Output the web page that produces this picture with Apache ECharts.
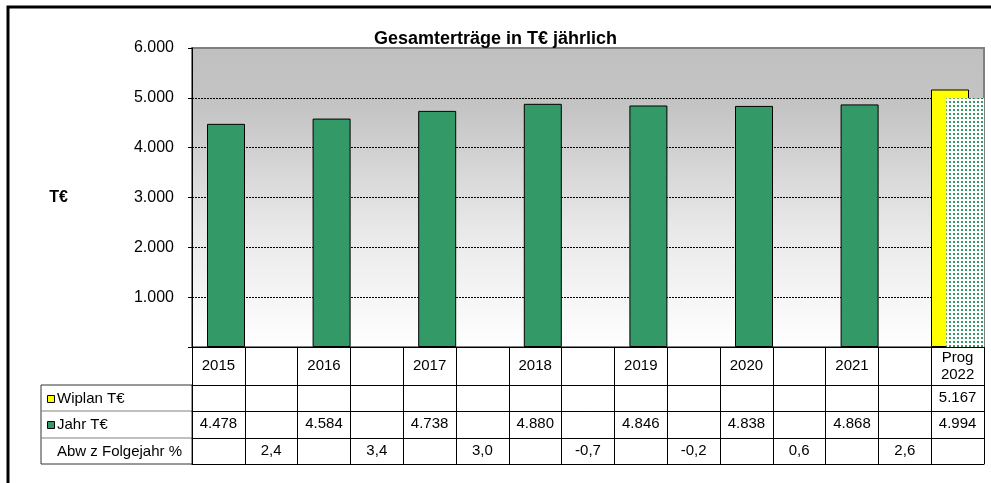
<!DOCTYPE html>
<html>
<head>
<meta charset="utf-8">
<title>Gesamterträge</title>
<script src="https://cdn.jsdelivr.net/npm/echarts@6/dist/echarts.min.js"></script>
<style>
    html,body{ margin:0; padding:0; background:#fff; }
    #chart{ width:991px; height:483px; }
</style>
</head>
<body>
<div id="chart"></div>
<script>
// Spalten: Jahre mit Zwischenspalten für die Abweichung
var categories = ['2015', '', '2016', '', '2017', '', '2018', '', '2019', '', '2020', '', '2021', '', 'Prog\n2022'];
var wiplan = [null, null, null, null, null, null, null, null, null, null, null, null, null, null, 5167];
var jahr = [4478, null, 4584, null, 4738, null, 4880, null, 4846, null, 4838, null, 4868, null, 4994];
var abw = [null, 2.4, null, 3.4, null, 3.0, null, -0.7, null, -0.2, null, 0.6, null, 2.6, null];
var yMin = 0, yMax = 6000, yStep = 1000;

var font = '"Liberation Sans", Arial, sans-serif';

function tsd(v) {
    if (v === null || v === undefined) return '';
    return String(v).replace(/\B(?=(\d{3})+(?!\d))/g, '.');
}
function pct(v) {
    if (v === null || v === undefined) return '';
    return v.toFixed(1).replace('.', ',');
}

// gepunktetes Muster für die Prognose
var pat = document.createElement('canvas');
pat.width = 4; pat.height = 4;
var ctx = pat.getContext('2d');
ctx.fillStyle = '#ffffff';
ctx.fillRect(0, 0, 4, 4);
ctx.fillStyle = '#339966';
ctx.fillRect(1, 1, 2, 2);

var jahrData = jahr.map(function (v, i) {
    if (v === null) return null;
    if (categories[i].indexOf('Prog') === 0) {
        return { value: v, itemStyle: { color: { image: pat, repeat: 'repeat' }, borderWidth: 0 } };
    }
    return v;
});

function rowAxis(data, offset, tickLen) {
    return {
        type: 'category',
        position: 'bottom',
        offset: offset,
        data: data,
        boundaryGap: true,
        axisLine: { show: true, lineStyle: { color: '#000', width: 1 } },
        axisTick: { show: tickLen > 0, interval: 0, length: tickLen, lineStyle: { color: '#000', width: 1 } },
        axisLabel: { show: tickLen > 0, interval: 0, margin: 13, verticalAlign: 'middle', fontSize: 15, color: '#000', fontFamily: font },
        splitLine: { show: false }
    };
}

var chart = echarts.init(document.getElementById('chart'));
chart.setOption({
    animation: false,
    title: {
        text: 'Gesamterträge in T€ jährlich',
        left: 'center',
        top: 25,
        textStyle: { fontSize: 18, fontWeight: 'bold', color: '#000', fontFamily: font }
    },
    grid: {
        left: 192, right: 7, top: 48, bottom: 136,
        show: true,
        borderColor: '#808080',
        borderWidth: 2,
        backgroundColor: {
            type: 'linear', x: 0, y: 0, x2: 0, y2: 1,
            colorStops: [
                { offset: 0, color: '#c0c0c0' },
                { offset: 0.2, color: '#c4c4c4' },
                { offset: 0.6, color: '#e8e8e8' },
                { offset: 1, color: '#ffffff' }
            ]
        }
    },
    xAxis: [
        {
            type: 'category',
            position: 'bottom',
            data: categories,
            boundaryGap: true,
            axisLine: { show: true, lineStyle: { color: '#000', width: 1 } },
            axisTick: { show: true, interval: 0, length: 38, lineStyle: { color: '#000', width: 1 } },
            axisLabel: { interval: 0, margin: 19, verticalAlign: 'middle', lineHeight: 17, fontSize: 15, color: '#000', fontFamily: font },
            splitLine: { show: false }
        },
        rowAxis(wiplan.map(tsd), 38, 26),
        rowAxis(jahr.map(tsd), 64, 27),
        rowAxis(abw.map(pct), 91, 26),
        rowAxis(categories.map(function () { return ''; }), 117, 0)
    ],
    yAxis: {
        type: 'value',
        min: yMin, max: yMax, interval: yStep,
        name: 'T€',
        nameLocation: 'middle',
        nameRotate: 0,
        nameGap: 124,
        nameTextStyle: { fontSize: 16, fontWeight: 'bold', color: '#000', fontFamily: font },
        axisLine: { show: true, lineStyle: { color: '#000', width: 1 } },
        axisTick: { show: true, length: 4, lineStyle: { color: '#000' } },
        axisLabel: {
            margin: 18, fontSize: 16, color: '#000', fontFamily: font,
            formatter: function (v) { return v === 0 ? '' : tsd(v); }
        },
        splitLine: {
            show: true, showMinLine: false, showMaxLine: false,
            lineStyle: { color: '#000', type: [2, 1], width: 1 }
        }
    },
    series: [
        {
            name: 'Wiplan T€',
            type: 'bar',
            xAxisIndex: 0,
            barWidth: 38,
            barGap: '-60%',
            data: wiplan,
            itemStyle: { color: '#ffff00', borderColor: '#000', borderWidth: 1 }
        },
        {
            name: 'Jahr T€',
            type: 'bar',
            xAxisIndex: 0,
            barWidth: 38,
            barGap: '-60%',
            data: jahrData,
            itemStyle: { color: '#339966', borderColor: '#000', borderWidth: 1 }
        }
    ],
    graphic: [
        // äußerer Rahmen
        { type: 'rect', silent: true, shape: { x: 8, y: 7, width: 1100, height: 600 }, style: { fill: 'none', stroke: '#000', lineWidth: 3 } },
        // Zeilenköpfe der Datentabelle
        { type: 'rect', silent: true, shape: { x: 41, y: 385, width: 151, height: 79 }, style: { fill: 'none', stroke: '#333', lineWidth: 1 } },
        { type: 'line', silent: true, shape: { x1: 41, y1: 411, x2: 192, y2: 411 }, style: { stroke: '#808080', lineWidth: 1 } },
        { type: 'line', silent: true, shape: { x1: 41, y1: 438, x2: 192, y2: 438 }, style: { stroke: '#808080', lineWidth: 1 } },
        { type: 'rect', silent: true, shape: { x: 47.5, y: 395.5, width: 7, height: 7 }, style: { fill: '#ffff00', stroke: '#000', lineWidth: 1 } },
        { type: 'rect', silent: true, shape: { x: 47.5, y: 421.5, width: 7, height: 7 }, style: { fill: '#339966', stroke: '#000', lineWidth: 1 } },
        { type: 'text', silent: true, style: { x: 57, y: 398.5, text: 'Wiplan T€', font: '15px ' + font, fill: '#000', verticalAlign: 'middle' } },
        { type: 'text', silent: true, style: { x: 57, y: 425, text: 'Jahr T€', font: '15px ' + font, fill: '#000', verticalAlign: 'middle' } },
        { type: 'text', silent: true, style: { x: 57, y: 451.5, text: 'Abw z Folgejahr %', font: '15px ' + font, fill: '#000', verticalAlign: 'middle' } }
    ]
});
window.addEventListener('resize', function () {
    chart.resize();
});
</script>
</body>
</html>
